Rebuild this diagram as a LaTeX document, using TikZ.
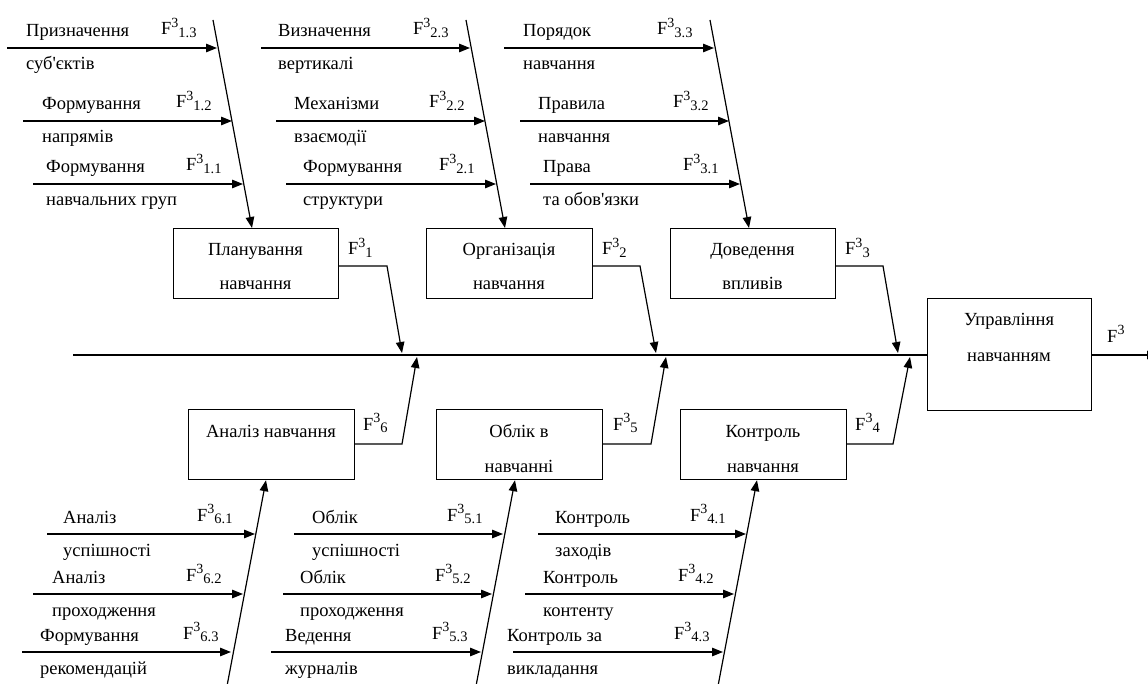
\documentclass[tikz,border=0pt]{standalone}
\usepackage{fontspec}
\setmainfont{Liberation Serif}[Ligatures=TeXOff]
\usetikzlibrary{arrows.meta}
\newcommand{\Fsup}{F\raisebox{7.5pt}{\fontsize{14}{14}\selectfont 3}}
\newcommand{\Fi}[1]{\Fsup\raisebox{-2.5pt}{\fontsize{14.5}{14}\selectfont #1}}
\begin{document}
\begin{tikzpicture}[x=1pt,y=-1pt,
  ln/.style={line width=1.2pt},
  arr/.style={ln,-{Triangle[length=11pt,width=8.5pt]}},
  box/.style={draw,line width=1.2pt,anchor=north west,inner sep=0pt},
  txt/.style={anchor=base west,inner sep=0pt,font=\fontsize{18.5}{22}\selectfont},
  ctxt/.style={anchor=base,inner sep=0pt,font=\fontsize{18.5}{22}\selectfont}]
\useasboundingbox (0,0) rectangle (1148,684);

% boxes
\node[box,minimum width=165pt,minimum height=70pt] (b1) at (173,228) {};
\node[box,minimum width=166pt,minimum height=70pt] (b2) at (426,228) {};
\node[box,minimum width=165pt,minimum height=70pt] (b3) at (670,228) {};
\node[box,minimum width=166pt,minimum height=70pt] (b6) at (188,409) {};
\node[box,minimum width=166pt,minimum height=70pt] (b5) at (436,409) {};
\node[box,minimum width=166pt,minimum height=70pt] (b4) at (680,409) {};
\node[box,minimum width=164pt,minimum height=112pt] (bm) at (927,298) {};

% box texts
\node[ctxt] (t1a) at (255.5,256) {Планування};
\node[ctxt] (t1b) at (255.5,290) {навчання};
\node[ctxt] (t2a) at (509,256) {Організація};
\node[ctxt] (t2b) at (509,290) {навчання};
\node[ctxt] (t3a) at (752.5,256) {Доведення};
\node[ctxt] (t3b) at (752.5,290) {впливів};
\node[ctxt] (t6a) at (271,437) {Аналіз навчання};
\node[ctxt] (t5a) at (519,437) {Облік в};
\node[ctxt] (t5b) at (519,472) {навчанні};
\node[ctxt] (t4a) at (763,437) {Контроль};
\node[ctxt] (t4b) at (763,472) {навчання};
\node[ctxt] (tma) at (1009,326) {Управління};
\node[ctxt] (tmb) at (1009,362) {навчанням};

% main spine
\coordinate (m0) at (73,355);
\draw[ln] (m0) -- (bm.west |- m0);
\coordinate (mo) at (1158,355);
\draw[arr] (bm.east |- m0) -- (mo);
\node[txt] (fo) at (1107,342) {\Fsup};

% box connectors
\coordinate (k1) at (387,266); \coordinate (p1) at (402,353);
\draw[arr] (b1.east |- k1) -- (k1) -- (p1);
\coordinate (k2) at (640,266); \coordinate (p2) at (656,353);
\draw[arr] (b2.east |- k2) -- (k2) -- (p2);
\coordinate (k3) at (883,266); \coordinate (p3) at (898,353);
\draw[arr] (b3.east |- k3) -- (k3) -- (p3);
\coordinate (k6) at (402,444); \coordinate (p6) at (417,357);
\draw[arr] (b6.east |- k6) -- (k6) -- (p6);
\coordinate (k5) at (651,444); \coordinate (p5) at (666,357);
\draw[arr] (b5.east |- k5) -- (k5) -- (p5);
\coordinate (k4) at (893,444); \coordinate (p4) at (910,357);
\draw[arr] (b4.east |- k4) -- (k4) -- (p4);

\node[txt] (F1) at (348,255) {\Fi{1}};
\node[txt] (F2) at (602,255) {\Fi{2}};
\node[txt] (F3) at (845,255) {\Fi{3}};
\node[txt] (F6) at (363,430) {\Fi{6}};
\node[txt] (F5) at (613,430) {\Fi{5}};
\node[txt] (F4) at (855,430) {\Fi{4}};

% diagonal bones
\coordinate (d1s) at (213,20);  \draw[arr] (d1s) -- (b1.north -| 252,0);
\coordinate (d2s) at (466,20);  \draw[arr] (d2s) -- (b2.north -| 505,0);
\coordinate (d3s) at (710,20);  \draw[arr] (d3s) -- (b3.north -| 749,0);
\coordinate (d6s) at (227,686); \draw[arr] (d6s) -- (b6.south -| 266,0);
\coordinate (d5s) at (476,686); \draw[arr] (d5s) -- (b5.south -| 515,0);
\coordinate (d4s) at (718,686); \draw[arr] (d4s) -- (b4.south -| 757,0);

% branches
\foreach \n/\y/\xa/\xb/\tx/\up/\dn/\fx/\sub in {
  13/48/7/217/26/Призначення/суб'єктів/161/1.3,
  12/121/23/232/42/Формування/напрямів/176/1.2,
  11/184/33/243/46/Формування/навчальних груп/186/1.1,
  23/48/261/470/278/Визначення/вертикалі/413/2.3,
  22/121/276/485/294/Механізми/взаємодії/429/2.2,
  21/184/286/496/303/Формування/структури/439/2.1,
  33/48/504/714/523/Порядок/навчання/657/3.3,
  32/121/520/729/538/Правила/навчання/673/3.2,
  31/184/530/740/543/Права/та обов'язки/683/3.1,
  61/534/47/255/63/Аналіз/успішності/197/6.1,
  62/594/33/243/52/Аналіз/проходження/186/6.2,
  63/652/22/231/40/Формування/рекомендацій/183/6.3,
  51/534/294/503/312/Облік/успішності/447/5.1,
  52/594/283/492/300/Облік/проходження/435/5.2,
  53/652/271/481/285/Ведення/журналів/432/5.3,
  41/534/538/746/555/Контроль/заходів/690/4.1,
  42/594/525/734/543/Контроль/контенту/678/4.2,
  43/652/513/723/507/Контроль за/викладання/674/4.3} {
  \coordinate (s\n) at (\xa,\y);
  \coordinate (e\n) at (\xb,\y);
  \draw[arr] (s\n) -- (e\n);
  \node[txt] (u\n) at (\tx,\y-11) {\up};
  \node[txt] (w\n) at (\tx,\y+22) {\dn};
  \node[txt] (f\n) at (\fx,\y-13) {\Fi{\sub}};
}
\end{tikzpicture}
\end{document}
